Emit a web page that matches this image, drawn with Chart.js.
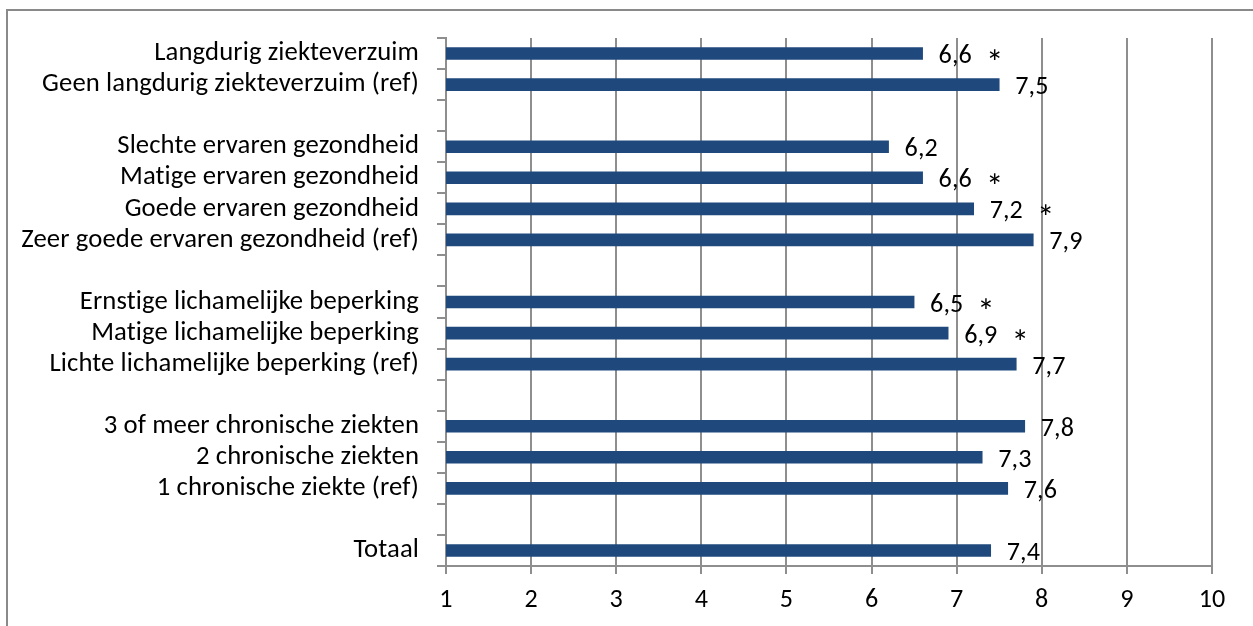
<!DOCTYPE html>
<html><head><meta charset="utf-8">
<script src="https://cdn.jsdelivr.net/npm/chart.js@4"></script>
<style>
html,body{margin:0;padding:0;background:#fff;overflow:hidden;}
#wrap{position:relative;width:1253px;height:626px;overflow:hidden;}
#frame{position:absolute;left:6px;top:9px;width:1400px;height:800px;border:2px solid #8a8a8a;box-sizing:border-box;}
canvas{position:absolute;left:0;top:0;}
</style></head><body>
<div id="wrap"><div id="frame"></div><canvas id="c" width="1253" height="626"></canvas></div>
<script>
const categories = [
  'Langdurig ziekteverzuim',
  'Geen langdurig ziekteverzuim (ref)',
  '',
  'Slechte ervaren gezondheid',
  'Matige ervaren gezondheid',
  'Goede ervaren gezondheid',
  'Zeer goede ervaren gezondheid (ref)',
  '',
  'Ernstige lichamelijke beperking',
  'Matige lichamelijke beperking',
  'Lichte lichamelijke beperking (ref)',
  '',
  '3 of meer chronische ziekten',
  '2 chronische ziekten',
  '1 chronische ziekte (ref)',
  '',
  'Totaal'
];
const values = [6.6, 7.5, null, 6.2, 6.6, 7.2, 7.9, null, 6.5, 6.9, 7.7, null, 7.8, 7.3, 7.6, null, 7.4];
const significant = [true, false, false, false, true, true, false, false, true, true, false, false, false, false, false, false, false];
const xMin = 1, xMax = 10, xStep = 1;

const FAMILY = 'Carlito, Lato, sans-serif';
const mctx = document.createElement('canvas').getContext('2d');
function fitSize(text, targetWidth) {
  mctx.font = '100px ' + FAMILY;
  return Math.round(100 * targetWidth / mctx.measureText(text).width * 10) / 10;
}
const labelSize = fitSize('Geen langdurig ziekteverzuim (ref)', 374);
const numSize = fitSize('7,4', 33);
const starSize = Math.round(numSize * 1.35);
const gridColor = '#8e8e8e';

const noLigatures = {
  id: 'noLigatures',
  beforeDraw(chart) { if ('letterSpacing' in chart.ctx) chart.ctx.letterSpacing = '0.1px'; }
};

const labelPlugin = {
  id: 'valueLabels',
  afterDatasetsDraw(chart) {
    const ctx = chart.ctx;
    const meta = chart.getDatasetMeta(0);
    ctx.save();
    ctx.fillStyle = '#000';
    ctx.textAlign = 'left';
    meta.data.forEach((bar, i) => {
      const v = values[i];
      if (v == null) return;
      const txt = v.toFixed(1).replace('.', ',');
      ctx.font = numSize + 'px ' + FAMILY;
      ctx.textBaseline = 'middle';
      const x = bar.x + 16, y = bar.y + 3;
      ctx.fillText(txt, x, y);
      if (significant[i]) {
        const w = ctx.measureText(txt).width;
        ctx.font = starSize + 'px ' + FAMILY;
        ctx.textBaseline = 'alphabetic';
        ctx.fillText('*', x + w + 14, y - 2 + starSize * 0.56);
      }
    });
    ctx.restore();
  }
};

new Chart(document.getElementById('c'), {
  type: 'bar',
  data: {
    labels: categories,
    datasets: [{
      data: values,
      backgroundColor: '#1F497D',
      borderWidth: 0,
      barThickness: 12
    }]
  },
  options: {
    indexAxis: 'y',
    responsive: false,
    animation: false,
    layout: { padding: { top: 38, right: 41, left: 0, bottom: 0 } },
    plugins: { legend: { display: false }, tooltip: { enabled: false } },
    scales: {
      x: {
        type: 'linear',
        min: xMin, max: xMax,
        ticks: { stepSize: xStep, color: '#000', padding: 11, font: { family: FAMILY, size: numSize } },
        grid: { color: gridColor, lineWidth: 2, tickLength: 8 },
        border: { display: true, color: gridColor, width: 2 },
        afterFit(scale) { scale.height = 60; }
      },
      y: {
        type: 'category',
        offset: true,
        ticks: { color: '#000', padding: 18, autoSkip: false, font: { family: FAMILY, size: labelSize } },
        grid: { display: true, drawOnChartArea: false, offset: true, color: gridColor, lineWidth: 2, tickLength: 9 },
        border: { display: true, color: gridColor, width: 2 },
        afterFit(scale) { scale.width = 446; }
      }
    }
  },
  plugins: [noLigatures, labelPlugin]
});
</script>
</body></html>
